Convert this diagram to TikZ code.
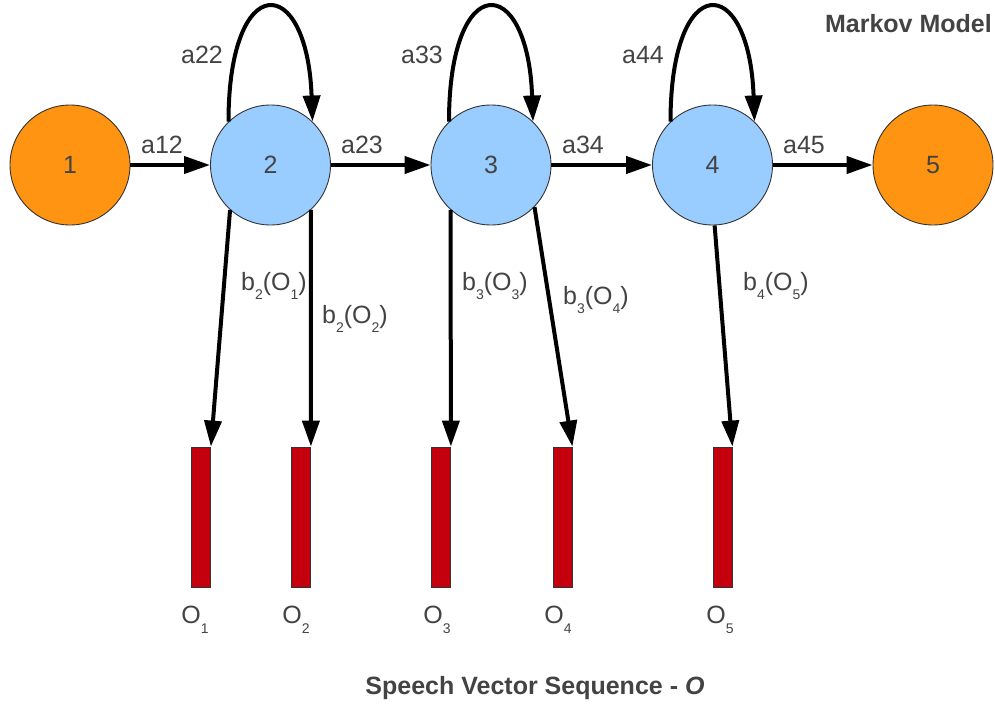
\documentclass[tikz,border=0pt]{standalone}
\usepackage{fontspec}
\setmainfont{Liberation Sans}
\usetikzlibrary{arrows.meta}
\definecolor{txt}{RGB}{67,67,67}
\definecolor{edgegray}{RGB}{51,51,51}
\definecolor{endorange}{RGB}{255,148,18}
\definecolor{stateblue}{RGB}{153,204,255}
\definecolor{obsred}{RGB}{196,0,14}
\newcommand\lowsub[1]{\raisebox{-0.38em}{\fontsize{14}{14}\selectfont #1}}
\tikzset{
  every node/.style={font=\fontsize{25}{28}\selectfont, text=txt},
  stateball/.style={circle, draw=edgegray, line width=0.9pt, minimum size=120pt, inner sep=0pt},
  endstate/.style={stateball, fill=endorange},
  hidstate/.style={stateball, fill=stateblue},
  obsbar/.style={rectangle, draw=edgegray, line width=0.8pt, fill=obsred, minimum width=19pt, minimum height=140pt, inner sep=0pt},
  trans/.style={line width=4pt, -{Triangle[length=26pt,width=17pt]}},
  lbl/.style={inner sep=0pt}
}
\begin{document}
\begin{tikzpicture}[x=1pt,y=-1pt]
\useasboundingbox (0,0) rectangle (995,706);

% states
\node[endstate] (n1) at (70,165) {1};
\node[hidstate] (n2) at (270.5,165) {2};
\node[hidstate] (n3) at (491,165) {3};
\node[hidstate] (n4) at (712.5,165) {4};
\node[endstate] (n5) at (933,165) {5};

% observation vectors
\node[obsbar] (o1) at (201,517) {};
\node[obsbar] (o2) at (301,517) {};
\node[obsbar] (o3) at (441,517) {};
\node[obsbar] (o4) at (562.5,517) {};
\node[obsbar] (o5) at (722.5,517) {};

% forward transitions
\draw[trans] (n1) -- (n2);
\draw[trans] (n2) -- (n3);
\draw[trans] (n3) -- (n4);
\draw[trans] (n4) -- (n5);
\node[lbl] at (162,145) {a12};
\node[lbl] at (362,145) {a23};
\node[lbl] at (583,145) {a34};
\node[lbl] at (804,145) {a45};

% self loops
\draw[trans] (n2.134) to[out=90,in=92,out distance=152pt,in distance=150pt] (n2.46);
\draw[trans] (n3.134) to[out=90,in=92,out distance=152pt,in distance=150pt] (n3.46);
\draw[trans] (n4.134) to[out=90,in=92,out distance=152pt,in distance=150pt] (n4.46);
\node[lbl] at (202,55) {a22};
\node[lbl] at (422,55) {a33};
\node[lbl] at (643,55) {a44};

% output probabilities
\draw[trans] (n2.228) -- (o1.north east);
\draw[trans] (n2.312) -- (o2.north east);
\draw[trans] (n3.228) -- (o3.north east);
\draw[trans] (n3.316) -- (o4.north east);
\draw[trans] (n4.272) -- (o5.north east);
\node[lbl] at (274,286) {b\lowsub{2}(O\lowsub{1})};
\node[lbl] at (355,319) {b\lowsub{2}(O\lowsub{2})};
\node[lbl] at (495,286) {b\lowsub{3}(O\lowsub{3})};
\node[lbl] at (596,300) {b\lowsub{3}(O\lowsub{4})};
\node[lbl] at (776,286) {b\lowsub{4}(O\lowsub{5})};

% observation names
\node[lbl] at (195,620) {O\lowsub{1}};
\node[lbl] at (296,620) {O\lowsub{2}};
\node[lbl] at (437,620) {O\lowsub{3}};
\node[lbl] at (558,620) {O\lowsub{4}};
\node[lbl] at (720,620) {O\lowsub{5}};

% titles
\node[lbl, anchor=east, font=\fontsize{25}{28}\selectfont\bfseries] at (992,24) {Markov Model};
\node[lbl, font=\fontsize{25}{28}\selectfont\bfseries] at (535,688) {Speech Vector Sequence - \textit{O}};
\end{tikzpicture}
\end{document}
